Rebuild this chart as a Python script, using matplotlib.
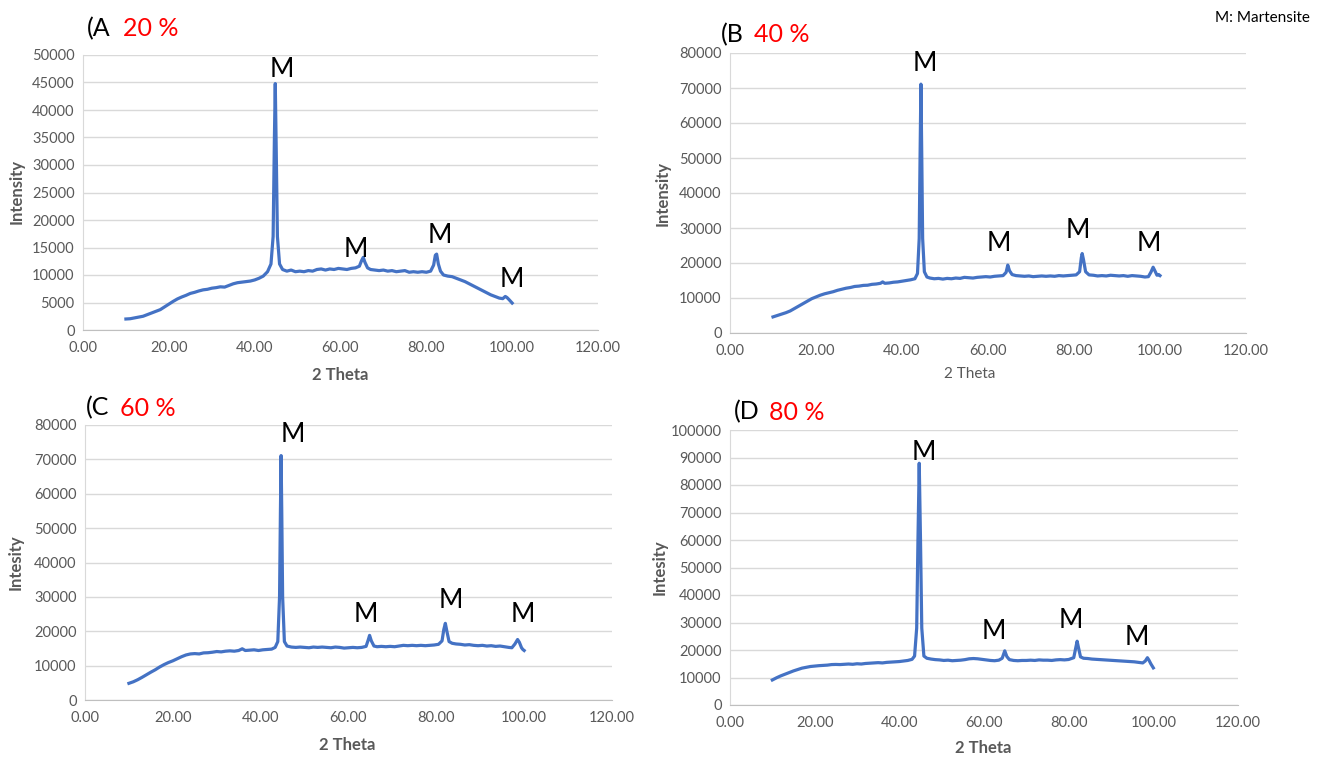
import matplotlib
matplotlib.use("Agg")
import matplotlib.pyplot as plt
from matplotlib.ticker import FormatStrFormatter

plt.rcParams['font.family'] = ['Lato', 'DejaVu Sans']

# ---- data ----
theta_a = [10, 11, 12, 13, 14, 15, 16, 17, 18, 19, 20, 21, 22, 23, 24, 25, 26, 27, 28, 29,
           30, 31, 32, 33, 34, 35, 36, 37, 38, 39, 40, 41, 42, 43, 43.8, 44.3, 44.6, 44.8, 45.0,
           45.3, 45.8, 46.5, 47.5, 48.5, 49.5, 50.5, 51.5, 52.5, 53.5, 54.5, 55.5, 56.5, 57.5,
           58.5, 59.5, 60.5, 61.5, 62.5, 63.5, 64.4, 64.9, 65.3, 65.7, 66.3, 67, 68, 69, 70, 71,
           72, 73, 74, 75, 76, 77, 78, 79, 80, 81, 81.7, 82.1, 82.4, 82.8, 83.3, 84, 85, 86, 87,
           88, 89, 90, 91, 92, 93, 94, 95, 96, 97, 97.8, 98.4, 98.8, 99.3, 100]
int_a = [2000, 2050, 2200, 2350, 2500, 2800, 3100, 3400, 3700, 4200, 4700, 5200, 5650, 6000,
         6300, 6650, 6850, 7100, 7300, 7400, 7600, 7700, 7850, 7800, 8100, 8400, 8600, 8700,
         8800, 8900, 9100, 9400, 9800, 10600, 12000, 17000, 35000, 44800, 34000, 17000, 12000,
         11000, 10700, 10900, 10600, 10700, 10600, 10800, 10700, 11000, 11100, 10900, 11100,
         11000, 11200, 11100, 11000, 11200, 11300, 11600, 12600, 13200, 12300, 11300, 11000,
         10900, 10800, 10900, 10700, 10800, 10600, 10700, 10800, 10500, 10600, 10500, 10600,
         10500, 10700, 11800, 13600, 13800, 12000, 10700, 10000, 9800, 9700, 9400, 9100, 8800,
         8400, 8000, 7600, 7200, 6800, 6400, 6100, 5800, 5700, 6100, 5900, 5500, 4900]

theta_b = [10, 11, 12, 13, 14, 15, 16, 17, 18, 19, 20, 21, 22, 23, 24, 25, 26, 27, 28, 29, 30,
           31, 32, 33, 34, 35, 35.5, 36, 37, 38, 39, 40, 41, 42, 43, 43.6, 44.0, 44.2, 44.4,
           44.6, 44.8, 45.2, 45.8, 46.5, 47.5, 48.5, 49.5, 50.5, 51.5, 52.5, 53.5, 54.5, 55.5,
           56.5, 57.5, 58.5, 59.5, 60.5, 61.5, 62.5, 63.5, 64.2, 64.6, 65.0, 65.6, 66.5, 67.5,
           68.5, 69.5, 70.5, 71.5, 72.5, 73.5, 74.5, 75.5, 76.5, 77.5, 78.5, 79.5, 80.5, 81.3,
           81.7, 81.9, 82.2, 82.7, 83.5, 84.5, 85.5, 86.5, 87.5, 88.5, 89.5, 90.5, 91.5, 92.5,
           93.5, 94.5, 95.5, 96.5, 97.3, 97.9, 98.4, 98.8, 99.3, 99.7, 100]
int_b = [4600, 5000, 5400, 5800, 6300, 7000, 7700, 8400, 9100, 9800, 10300, 10800, 11200,
         11500, 11800, 12200, 12500, 12800, 13000, 13300, 13400, 13600, 13650, 13900, 14000,
         14200, 14600, 14200, 14300, 14500, 14600, 14800, 15000, 15200, 15500, 17000, 27000,
         50000, 71100, 50000, 27000, 17500, 16000, 15700, 15500, 15600, 15400, 15600, 15500,
         15700, 15600, 15900, 15800, 15700, 15900, 16000, 16100, 16000, 16200, 16300, 16400,
         17300, 19400, 17800, 16700, 16400, 16300, 16200, 16300, 16100, 16200, 16300, 16200,
         16300, 16200, 16400, 16300, 16400, 16500, 16600, 17500, 21500, 22700, 21000, 17500,
         16600, 16500, 16300, 16400, 16300, 16500, 16400, 16300, 16400, 16200, 16400, 16300,
         16200, 16000, 16100, 17400, 18800, 17800, 16500, 16700, 16400]

theta_c = [10, 11, 12, 13, 14, 15, 16, 17, 18, 19, 20, 21, 22, 23, 24, 25, 26, 27, 28, 29, 30,
           31, 32, 33, 34, 35, 35.8, 36.5, 37.5, 38.5, 39.5, 40.5, 41.5, 42.5, 43.3, 43.9, 44.3,
           44.5, 44.65, 44.8, 45.0, 45.4, 46, 47, 48, 49, 50, 51, 52, 53, 54, 55, 56, 57, 58, 59,
           60, 61, 62, 63, 64, 64.5, 64.8, 65.2, 65.8, 66.5, 67.5, 68.5, 69.5, 70.5, 71.5, 72.5,
           73.5, 74.5, 75.5, 76.5, 77.5, 78.5, 79.5, 80.5, 81.3, 81.7, 82.05, 82.4, 82.9, 83.6,
           84.5, 85.5, 86.5, 87.5, 88.5, 89.5, 90.5, 91.5, 92.5, 93.5, 94.5, 95.5, 96.5, 97.2,
           97.9, 98.5, 98.9, 99.4, 99.7, 100]
int_c = [4850, 5300, 5900, 6600, 7350, 8100, 8800, 9600, 10300, 10900, 11400, 12000, 12600,
         13100, 13400, 13500, 13400, 13700, 13750, 13900, 14100, 14000, 14200, 14300, 14200,
         14400, 14900, 14400, 14500, 14600, 14400, 14600, 14700, 14800, 15300, 17000, 30000,
         55000, 71100, 55000, 30000, 17000, 15700, 15400, 15300, 15400, 15300, 15200, 15400,
         15300, 15400, 15300, 15200, 15400, 15300, 15100, 15200, 15300, 15200, 15300, 15600,
         17500, 18800, 17200, 15700, 15500, 15600, 15500, 15600, 15500, 15700, 15900, 15800,
         15900, 15800, 15900, 15800, 15900, 16000, 16200, 17200, 20500, 22300, 20000, 17000,
         16500, 16300, 16200, 16000, 16100, 15900, 15800, 15900, 15700, 15800, 15600, 15700,
         15500, 15300, 15200, 16300, 17600, 16800, 15200, 14700, 14400]

theta_d = [10, 11, 12, 13, 14, 15, 16, 17, 18, 19, 20, 21, 22, 23, 24, 25, 26, 27, 28, 29, 30,
           31, 32, 33, 34, 35, 36, 37, 38, 39, 40, 41, 42, 43, 43.6, 44.1, 44.4, 44.7, 45.0,
           45.3, 45.8, 46.5, 47.5, 48.5, 49.5, 50.5, 51.5, 52.5, 53.5, 54.5, 55.5, 56.5, 57.5,
           58.5, 59.5, 60.5, 61.5, 62.5, 63.5, 64.3, 64.9, 65.4, 66, 67, 68, 69, 70, 71, 72, 73,
           74, 75, 76, 77, 78, 79, 80, 81.2, 81.7, 82.0, 82.3, 82.8, 83.5, 84.5, 85.5, 86.5,
           87.5, 88.5, 89.5, 90.5, 91.5, 92.5, 93.5, 94.5, 95.5, 96.5, 97.5, 98.1, 98.6, 99.0,
           99.4, 100]
int_d = [9100, 9900, 10600, 11200, 11800, 12400, 12900, 13400, 13700, 14000, 14150, 14300,
         14400, 14500, 14700, 14750, 14700, 14800, 14900, 14800, 15000, 14900, 15100, 15200,
         15300, 15400, 15300, 15500, 15600, 15700, 15800, 16000, 16200, 16600, 17800, 28000,
         60000, 87900, 60000, 28000, 17800, 17000, 16700, 16500, 16400, 16200, 16300, 16100,
         16200, 16300, 16500, 16800, 16900, 16800, 16600, 16400, 16200, 16100, 16300, 17000,
         19700, 17600, 16500, 16200, 16100, 16200, 16200, 16300, 16200, 16400, 16300, 16300,
         16200, 16400, 16500, 16400, 16550, 17200, 21000, 23200, 21000, 17500, 17000, 16900,
         16700, 16600, 16500, 16400, 16300, 16200, 16100, 16000, 15900, 15800, 15700, 15500,
         15300, 16000, 17200, 16200, 15000, 13500]

# "M" label positions (2theta, intensity) per panel
m_pos_a = [(46.4, 47300), (63.5, 14700), (83.1, 17100), (99.9, 9200)]
m_pos_b = [(45.3, 76900), (62.4, 25600), (81.0, 29400), (97.5, 25600)]
m_pos_c = [(47.3, 77300), (64.0, 25000), (83.3, 29000), (99.6, 25000)]
m_pos_d = [(45.8, 91900), (62.2, 26600), (80.5, 30800), (96.2, 24500)]

W, H = 1324, 758
BLUE = '#4472C4'
GREY = '#595959'

fig = plt.figure(figsize=(W / 100, H / 100), dpi=100)


def px_text(x, y, s, **kw):
    fig.text(x / W, 1 - y / H, s, **kw)


def make_panel(box, theta, inten, ymax, ystep, mpos):
    left, right, bottom, top = box
    ax = fig.add_axes([left / W, 1 - bottom / H, (right - left) / W, (bottom - top) / H])
    ax.plot(theta, inten, color=BLUE, lw=2.3)
    ax.set_xlim(0, 120)
    ax.set_ylim(0, ymax)
    ax.set_xticks(range(0, 121, 20))
    ax.set_yticks(range(0, ymax + 1, ystep))
    ax.xaxis.set_major_formatter(FormatStrFormatter('%.2f'))
    ax.grid(axis='y', color='#d9d9d9', lw=1.0)
    ax.set_axisbelow(True)
    for side in ['top', 'right']:
        ax.spines[side].set_visible(False)
    ax.spines['bottom'].set_color('#bfbfbf')
    ax.spines['left'].set_color('#d9d9d9')
    ax.tick_params(length=0, labelsize=10.5, labelcolor=GREY)
    ax.tick_params(axis='x', pad=8)
    ax.tick_params(axis='y', pad=6)
    for x, y in mpos:
        ax.text(x, y, 'M', ha='center', va='center', fontsize=19, color='black')
    return ax


make_panel((83, 598, 330, 55), theta_a, int_a, 50000, 5000, m_pos_a)
make_panel((730, 1246, 333, 53), theta_b, int_b, 80000, 10000, m_pos_b)
make_panel((85, 612, 700, 425), theta_c, int_c, 80000, 10000, m_pos_c)
make_panel((730, 1238, 705, 430), theta_d, int_d, 100000, 10000, m_pos_d)

# panel titles
for x, y, lab, pct, xp in [(87, 29, '(A', '20 %', 123), (721, 35, '(B', '40 %', 754),
                           (86, 408, '(C', '60 %', 120), (734, 412, '(D', '80 %', 769)]:
    px_text(x, y, lab, fontsize=18, color='black', va='center', ha='left')
    px_text(xp, y, pct, fontsize=18, color='#ff0000', va='center', ha='left')

# axis titles
px_text(17, 192, 'Intensity', rotation=90, fontsize=12, fontweight='bold', color=GREY, ha='center', va='center')
px_text(663, 193, 'Intensity', rotation=90, fontsize=12, fontweight='bold', color=GREY, ha='center', va='center')
px_text(16, 562, 'Intesity', rotation=90, fontsize=12, fontweight='bold', color=GREY, ha='center', va='center')
px_text(660, 567, 'Intesity', rotation=90, fontsize=12, fontweight='bold', color=GREY, ha='center', va='center')

px_text(340, 375, '2 Theta', fontsize=12, fontweight='bold', color=GREY, ha='center', va='center')
px_text(970, 374, '2 Theta', fontsize=11, color=GREY, ha='center', va='center')
px_text(347, 745, '2 Theta', fontsize=12, fontweight='bold', color=GREY, ha='center', va='center')
px_text(983, 748, '2 Theta', fontsize=12, fontweight='bold', color=GREY, ha='center', va='center')

px_text(1310, 18, 'M: Martensite', fontsize=11, color='black', ha='right', va='center')

fig.savefig('out.png', dpi=100)
